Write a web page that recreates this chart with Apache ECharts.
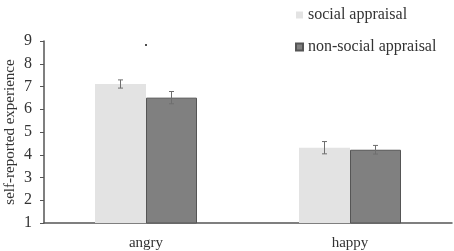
<!DOCTYPE html>
<html>
<head>
<meta charset="utf-8">
<script src="https://cdn.jsdelivr.net/npm/echarts@6/dist/echarts.min.js"></script>
<style>
  html, body { margin: 0; padding: 0; background: #fff; }
  #main { width: 454px; height: 251px; }
</style>
</head>
<body>
<div id="main"></div>
<script>
// data
var categories = ['angry', 'happy'];
var socialVals = [7.11, 4.31];
var socialErr = [0.18, 0.27];
var nonSocialVals = [6.51, 4.22];
var nonSocialErr = [0.27, 0.19];
var sigMarks = [['angry', 8.82]];
var yTicks = [1, 9, 1]; // min, max, interval

var chart = echarts.init(document.getElementById('main'));
var serif = 'Liberation Serif';

// error bar series, offset = which bar in the group (-1 left, +1 right)
function errSeries(vals, errs, offset) {
  return {
    type: 'custom',
    silent: true,
    z: 5,
    renderItem: function (params, api) {
      var cat = api.value(0);
      var v = api.value(1);
      var e = api.value(2);
      var band = api.size([1, 0])[0];
      var top = api.coord([cat, v + e]);
      var bot = api.coord([cat, v - e]);
      var x = top[0] + offset * band * 0.125;
      var cap = 2.5;
      var style = { stroke: '#6e6e6e', lineWidth: 1 };
      return {
        type: 'group',
        children: [
          { type: 'line', shape: { x1: x, y1: top[1], x2: x, y2: bot[1] }, style: style },
          { type: 'line', shape: { x1: x - cap, y1: top[1], x2: x + cap, y2: top[1] }, style: style },
          { type: 'line', shape: { x1: x - cap, y1: bot[1], x2: x + cap, y2: bot[1] }, style: style }
        ]
      };
    },
    encode: { x: 0, y: 1 },
    data: vals.map(function (v, i) { return [i, v, errs[i]]; })
  };
}

var option = {
  animation: false,
  grid: { left: 44, right: 2, top: 41, bottom: 28, containLabel: false, outerBoundsMode: 'none' },
  legend: {
    orient: 'vertical',
    left: 290,
    top: 2,
    icon: 'rect',
    itemWidth: 7,
    itemHeight: 7,
    itemGap: 16,
    textStyle: { fontFamily: serif, fontSize: 16, color: '#333' },
    data: ['social appraisal', 'non-social appraisal']
  },
  xAxis: {
    type: 'category',
    data: categories,
    axisLine: { lineStyle: { color: '#555', width: 1.5 } },
    axisTick: { show: false },
    axisLabel: { fontFamily: serif, fontSize: 15, color: '#333', margin: 13 }
  },
  yAxis: {
    type: 'value',
    min: yTicks[0],
    max: yTicks[1],
    interval: yTicks[2],
    name: 'self-reported experience',
    nameLocation: 'middle',
    nameGap: 26,
    nameMoveOverlap: false,
    nameTextStyle: { fontFamily: serif, fontSize: 15, color: '#333' },
    axisLine: { show: true, lineStyle: { color: '#555', width: 1.5 } },
    axisTick: { show: true, length: 4, lineStyle: { color: '#555' } },
    axisLabel: { fontFamily: serif, fontSize: 16, color: '#333', margin: 12 },
    splitLine: { show: false }
  },
  series: [
    {
      name: 'social appraisal',
      type: 'bar',
      barWidth: '25%',
      barGap: '0%',
      itemStyle: { color: '#e3e3e3' },
      data: socialVals
    },
    {
      name: 'non-social appraisal',
      type: 'bar',
      barWidth: '25%',
      barGap: '0%',
      itemStyle: { color: '#808080', borderColor: '#555', borderWidth: 1 },
      data: nonSocialVals
    },
    errSeries(socialVals, socialErr, -1),
    errSeries(nonSocialVals, nonSocialErr, 1),
    {
      type: 'scatter',
      symbol: 'rect',
      symbolSize: [2, 2],
      itemStyle: { color: '#222' },
      data: sigMarks
    }
  ]
};
chart.setOption(option);
</script>
</body>
</html>
